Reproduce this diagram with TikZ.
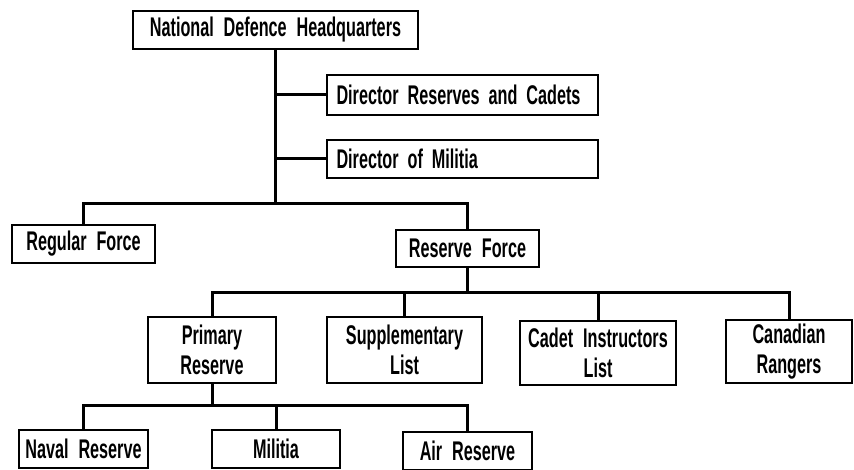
\documentclass[tikz,border=0pt]{standalone}
\usepackage{fontspec}
\setmainfont{Liberation Sans}[FakeStretch=0.6, WordSpace=2.2]
\usepackage{tikz}

\begin{document}
\begin{tikzpicture}[x=1pt, y=-1pt,
	box/.style={draw, line width=2.8pt, inner sep=0pt, align=center, font=\fontsize{27}{30}\selectfont\bfseries},
	leftbox/.style={box, align=left, text width=252pt},
	link/.style={line width=3pt}]
	\useasboundingbox (0, 0) rectangle (854, 470);

	\node [box, minimum width=285pt, minimum height=38pt] (ndhq) at (275.5, 30) {National Defence Headquarters};
	\node [leftbox, minimum width=271pt, minimum height=40pt] (drc) at (462.5, 95) {Director Reserves and Cadets};
	\node [leftbox, minimum width=271pt, minimum height=38pt] (dm) at (462.5, 159) {Director of Militia};

	\node [box, minimum width=143pt, minimum height=38pt] (regular) at (83.5, 244) {Regular Force};
	\node [box, minimum width=143pt, minimum height=37pt] (reserve) at (467.5, 248.5) {Reserve Force};

	\node [box, minimum width=128pt, minimum height=66pt] (primary) at (212, 350) {Primary\\Reserve};
	\node [box, minimum width=155pt, minimum height=66pt] (supp) at (404.5, 350) {Supplementary\\List};
	\node [box, minimum width=156pt, minimum height=64pt] (cadet) at (598, 353) {Cadet Instructors\\List};
	\node [box, minimum width=126pt, minimum height=63pt] (rangers) at (789, 351.5) {Canadian\\Rangers};

	\node [box, minimum width=129pt, minimum height=38pt] (naval) at (83.5, 449) {Naval Reserve};
	\node [box, minimum width=128pt, minimum height=38pt] (militia) at (276, 449) {Militia};
	\node [box, minimum width=129pt, minimum height=38pt] (air) at (467.5, 451) {Air Reserve};

	\coordinate (top) at (ndhq.south |- 0, 204);
	\coordinate (mid) at (reserve.south |- 0, 293);
	\coordinate (low) at (primary.south |- 0, 405);

	\draw [link] (ndhq.south) -- (top);
	\draw [link] (drc.west) -- (drc.west -| ndhq.south);
	\draw [link] (dm.west) -- (dm.west -| ndhq.south);
	\draw [link] (regular.north) |- (top) -| (reserve.north);

	\draw [link] (reserve.south) -- (mid);
	\draw [link] (primary.north) |- (mid) -| (rangers.north);
	\draw [link] (supp.north) -- (supp.north |- mid);
	\draw [link] (cadet.north) -- (cadet.north |- mid);

	\draw [link] (primary.south) -- (low);
	\draw [link] (naval.north) |- (low) -| (air.north);
	\draw [link] (militia.north) -- (militia.north |- low);
\end{tikzpicture}
\end{document}
